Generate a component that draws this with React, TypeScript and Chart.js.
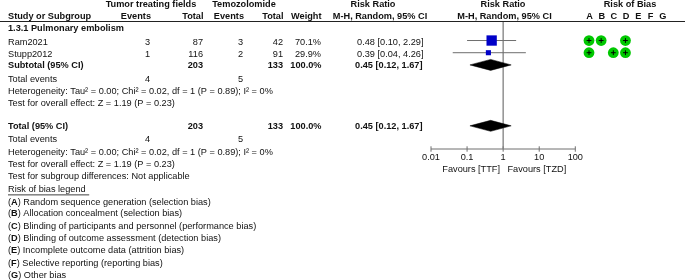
import React, { useEffect, useRef } from "react";
import { Chart, registerables } from "chart.js";

Chart.register(...registerables);

const studies = ["Ram2021", "Stupp2012"];
const eventsTTF = ["3", "1"];
const totalTTF = ["87", "116"];
const eventsTZD = ["3", "2"];
const totalTZD = ["42", "91"];
const weights = ["70.1%", "29.9%"];
const rr = [0.48, 0.39];
const rrLow = [0.1, 0.04];
const rrHigh = [2.29, 4.26];
const squareRadius = [7.3, 3.6];
const pooled = [0.45, 0.12, 1.67];
const pooledRows = [3, 8];
const axisTicks = [0.01, 0.1, 1, 10, 100];
const biasLetters = ["A", "B", "C", "D", "E", "F", "G"];
const biasRows = [
  [0, 1, 3],
  [0, 2, 3],
];
const legendItems: [string, string][] = [
  ["A", "Random sequence generation (selection bias)"],
  ["B", "Allocation concealment (selection bias)"],
  ["C", "Blinding of participants and personnel (performance bias)"],
  ["D", "Blinding of outcome assessment (detection bias)"],
  ["E", "Incomplete outcome data (attrition bias)"],
  ["F", "Selective reporting (reporting bias)"],
  ["G", "Other bias"],
];
const hetText = "Heterogeneity: Tau² = 0.00; Chi² = 0.02, df = 1 (P = 0.89); I² = 0%";
const effectText = "Test for overall effect: Z = 1.19 (P = 0.23)";

const FAMILY = '"Liberation Sans", Arial, sans-serif';
const SIZE = 9.2;
const INK = "#111";

const tablePlugin = {
  id: "table",
  afterDraw(chart: Chart) {
    const ctx = chart.ctx;
    const put = (s: string, x: number, y: number, align: CanvasTextAlign = "left", bold = false) => {
      ctx.font = `${bold ? "bold " : ""}${SIZE}px ${FAMILY}`;
      ctx.textAlign = align;
      ctx.fillText(s, x, y);
    };
    ctx.save();
    ctx.fillStyle = INK;
    ctx.textBaseline = "middle";

    put("Tumor treating fields", 151, 4.5, "center", true);
    put("Temozolomide", 244, 4.5, "center", true);
    put("Risk Ratio", 373, 4.5, "center", true);
    put("Risk Ratio", 503, 4.5, "center", true);
    put("Risk of Bias", 630, 4.5, "center", true);

    put("Study or Subgroup", 8, 16.5, "left", true);
    put("Events", 151, 16.5, "right", true);
    put("Total", 203.5, 16.5, "right", true);
    put("Events", 244, 16.5, "right", true);
    put("Total", 283.5, 16.5, "right", true);
    put("Weight", 321.5, 16.5, "right", true);
    put("M-H, Random, 95% CI", 380, 16.5, "center", true);
    put("M-H, Random, 95% CI", 504.5, 16.5, "center", true);
    biasLetters.forEach((l, i) => put(l, 589.5 + i * 12.2, 16.5, "center", true));

    ctx.fillStyle = "#222";
    ctx.fillRect(0, 21, 685, 1);
    ctx.fillStyle = INK;

    put("1.3.1 Pulmonary embolism", 8, 28.5, "left", true);
    const studyY = [42, 54.5];
    studies.forEach((s, i) => {
      const y = studyY[i];
      put(s, 8, y);
      put(eventsTTF[i], 150, y, "right");
      put(totalTTF[i], 203, y, "right");
      put(eventsTZD[i], 243, y, "right");
      put(totalTZD[i], 283, y, "right");
      put(weights[i], 321, y, "right");
      put(`${rr[i].toFixed(2)} [${rrLow[i].toFixed(2)}, ${rrHigh[i].toFixed(2)}]`, 423.5, y, "right");
    });

    const pooledText = `${pooled[0].toFixed(2)} [${pooled[1].toFixed(2)}, ${pooled[2].toFixed(2)}]`;
    const sumRow = (label: string, y: number) => {
      put(label, 8, y, "left", true);
      put("203", 203, y, "right", true);
      put("133", 283, y, "right", true);
      put("100.0%", 321.5, y, "right", true);
      put(pooledText, 422.5, y, "right", true);
    };
    const evRow = (y: number) => {
      put("Total events", 8, y);
      put("4", 150, y, "right");
      put("5", 243, y, "right");
    };
    sumRow("Subtotal (95% CI)", 65);
    evRow(79);
    put(hetText, 8, 91);
    put(effectText, 8, 103.5);
    sumRow("Total (95% CI)", 126);
    evRow(139.5);
    put(hetText, 8, 152);
    put(effectText, 8, 164);
    put("Test for subgroup differences: Not applicable", 8, 176.5);

    put("Risk of bias legend ", 8, 189.5);
    const w = ctx.measureText("Risk of bias legend ").width;
    ctx.fillRect(8, 194.5, w + 1, 0.8);

    const legendY = [202, 213.5, 226, 238, 250, 263, 275];
    legendItems.forEach(([l, s], i) => {
      const y = legendY[i];
      let x = 8;
      put("(", x, y);
      x += ctx.measureText("(").width;
      put(l, x, y, "left", true);
      x += ctx.measureText(l).width;
      put(") " + s, x, y);
    });

    put("Favours [TTF]", 500, 169, "right");
    put("Favours [TZD]", 507.5, 169, "left");
    ctx.restore();
  },
};

const GREY = "#6e6e6e";
const BLUE = "#0000c8";
const GREEN = "#00c800";

export default function App() {
  const ref = useRef<HTMLCanvasElement>(null);
  useEffect(() => {
    const rowTop = -0.52;
    const rowBottom = 9.9;
    const pxPerDecade = 36.075;
    const areaLeft = 431;
    const areaRight = 675;
    const datasets: any[] = [];
    // null line
    datasets.push({
      order: 10,
      data: [{ x: 1, y: rowTop }, { x: 1, y: rowBottom }],
      showLine: true, borderColor: "#808080", borderWidth: 1.3, pointRadius: 0, clip: false,
    });
    // axis with ticks
    datasets.push({
      order: 10,
      data: axisTicks.map((x) => ({ x, y: rowBottom })),
      showLine: true, borderColor: GREY, borderWidth: 1,
      pointStyle: "line", rotation: 90, pointRadius: 2.7, pointBorderColor: GREY, pointBorderWidth: 1, clip: false,
    });
    // CIs
    studies.forEach((_, i) => {
      datasets.push({
        order: 9,
        data: [{ x: rrLow[i], y: i + 1 }, { x: rrHigh[i], y: i + 1 }],
        showLine: true, borderColor: GREY, borderWidth: 1, pointRadius: 0,
      });
    });
    // squares
    datasets.push({
      order: 8,
      data: rr.map((x, i) => ({ x, y: i + 1 })),
      pointStyle: "rect", pointRadius: squareRadius, backgroundColor: BLUE, borderColor: BLUE, borderWidth: 0,
    });
    // diamonds
    pooledRows.forEach((r) => {
      const h = 0.45;
      datasets.push({
        order: 8,
        data: [
          { x: pooled[1], y: r },
          { x: pooled[0], y: r - h },
          { x: pooled[2], y: r },
          { x: pooled[0], y: r + h },
          { x: pooled[1], y: r },
        ],
        showLine: true, fill: "shape", backgroundColor: "#000", borderColor: "#000", borderWidth: 0.5,
        pointRadius: 0, tension: 0,
      });
    });
    // risk of bias
    const biasPts = biasRows.flatMap((cols, r) => cols.map((c) => ({ x: c, y: r + 1 })));
    datasets.push({
      xAxisID: "bias", data: biasPts, order: 2,
      pointStyle: "circle", pointRadius: 5.4, backgroundColor: GREEN, borderColor: GREEN, borderWidth: 0,
    });
    datasets.push({
      xAxisID: "bias", data: biasPts, order: 1,
      pointStyle: "cross", pointRadius: 2.4, borderColor: "#000", pointBorderColor: "#000", pointBorderWidth: 1, backgroundColor: "#000",
    });

    const chart = new Chart(ref.current!, {
      type: "scatter",
      data: { datasets },
      plugins: [tablePlugin],
      options: {
        animation: false,
        responsive: false,
        events: [],
        layout: { padding: { left: areaLeft, right: 685 - areaRight, top: 22, bottom: 111 } },
        plugins: { legend: { display: false }, tooltip: { enabled: false } },
        scales: {
          x: {
            type: "logarithmic",
            min: 0.01,
            max: Math.pow(10, (areaRight - areaLeft) / pxPerDecade - 2),
            afterBuildTicks: (s: any) => {
              s.ticks = axisTicks.map((value) => ({ value }));
            },
            afterFit: (s: any) => {
              s.height = 20;
            },
            grid: { display: false, drawTicks: false },
            border: { display: false },
            ticks: {
              autoSkip: false,
              maxRotation: 0,
              padding: 3,
              color: INK,
              font: { family: FAMILY, size: SIZE },
              callback: (v: any) => String(v),
            },
          },
          bias: {
            type: "linear",
            display: false,
            min: (areaLeft - 589) / 12.15,
            max: (areaRight - 589) / 12.15,
          },
          y: { display: false, reverse: true, min: rowTop, max: rowBottom },
        },
      },
    } as any);
    return () => chart.destroy();
  }, []);
  return (
    <div style={{ position: "fixed", left: 0, top: 0 }}>
      <canvas ref={ref} width={685} height={280} style={{ display: "block", width: 685, height: 280, filter: "blur(0.3px)" }} />
    </div>
  );
}
